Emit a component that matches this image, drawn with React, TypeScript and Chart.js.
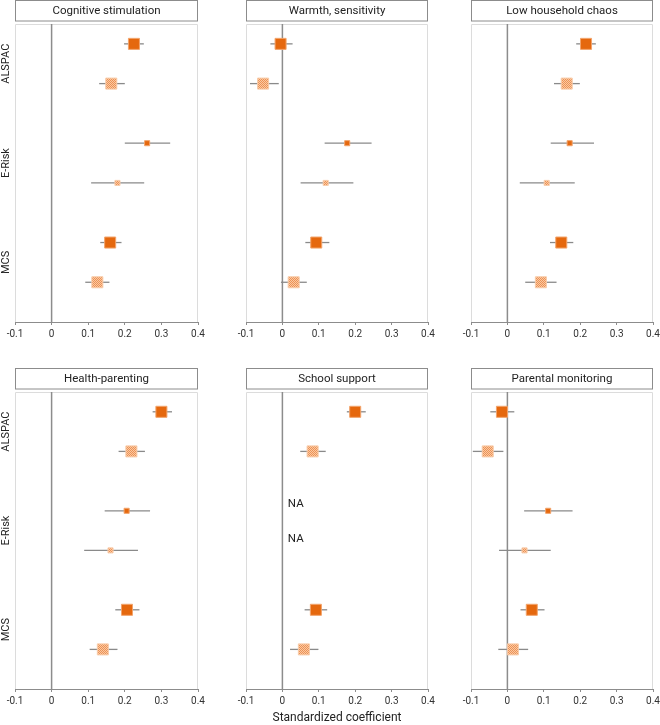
import React, { useEffect, useRef } from 'react';
import { Chart, registerables } from 'chart.js';

Chart.register(...registerables);

// ---------------- data ----------------
const panelTitles = [
  'Cognitive stimulation',
  'Warmth, sensitivity',
  'Low household chaos',
  'Health-parenting',
  'School support',
  'Parental monitoring',
];
const cohorts = ['ALSPAC', 'E-Risk', 'MCS'];
const xTickValues = [-0.1, 0, 0.1, 0.2, 0.3, 0.4];
const xAxisTitle = 'Standardized coefficient';
const naLabel = 'NA';

// solid markers (per panel, per cohort ALSPAC / E-Risk / MCS)
const solidEst = [
  [0.225, 0.261, 0.160],
  [-0.005, 0.178, 0.093],
  [0.216, 0.171, 0.148],
  [0.300, 0.205, 0.206],
  [0.200, null, 0.092],
  [-0.015, 0.112, 0.067],
];
const solidLo = [
  [0.198, 0.200, 0.133],
  [-0.033, 0.116, 0.063],
  [0.189, 0.119, 0.117],
  [0.276, 0.145, 0.174],
  [0.177, null, 0.061],
  [-0.047, 0.046, 0.036],
];
const solidHi = [
  [0.252, 0.324, 0.191],
  [0.028, 0.245, 0.129],
  [0.243, 0.238, 0.181],
  [0.329, 0.269, 0.240],
  [0.229, null, 0.123],
  [0.019, 0.179, 0.102],
];
// hatched markers
const hatchEst = [
  [0.163, 0.180, 0.125],
  [-0.053, 0.119, 0.031],
  [0.163, 0.108, 0.092],
  [0.218, 0.161, 0.140],
  [0.083, null, 0.059],
  [-0.054, 0.047, 0.015],
];
const hatchLo = [
  [0.130, 0.108, 0.092],
  [-0.089, 0.050, -0.004],
  [0.128, 0.034, 0.049],
  [0.183, 0.089, 0.104],
  [0.049, null, 0.021],
  [-0.095, -0.023, -0.025],
];
const hatchHi = [
  [0.200, 0.253, 0.158],
  [-0.010, 0.195, 0.067],
  [0.199, 0.185, 0.135],
  [0.255, 0.236, 0.180],
  [0.119, null, 0.099],
  [-0.011, 0.119, 0.057],
];

// ---------------- styling / layout ----------------
const FONT = 'Roboto, "Noto Sans", sans-serif';
const SOLID = '#E5680E';
const SOLID_EDGE = '#F2A46C';
const HATCH_EDGE = '#F8CCAA';
const BAR = '#8a8a8a';
const AXIS = '#8c8c8c';
const FRAME = '#dcdcdc';
const TEXT = '#222222';
const cohortRadius = [7.8, 3.6, 7.8];

const CANVAS_W = 220;
const canvasH = [360, 365];
const rowTop = [0, 360];
const rowPadTop = [24, 32];
const rowAxisH = [38, 36];
const colPadLeft = [15, 26, 31];
const colPadRight = [22, 12, 7];

function makePattern(): CanvasPattern | string {
  const c = document.createElement('canvas');
  c.width = 2;
  c.height = 2;
  const g = c.getContext('2d');
  if (!g) return '#F4AE7C';
  g.fillStyle = '#F9C9A4';
  g.fillRect(0, 0, 2, 2);
  g.fillStyle = '#EE9254';
  g.fillRect(0, 0, 1, 1);
  g.fillRect(1, 1, 1, 1);
  const pat = g.createPattern(c, 'repeat');
  return pat || '#F4AE7C';
}

function buildSeries(est: (number | null)[], lo: (number | null)[], hi: (number | null)[], offset: number) {
  const pts: { x: number; y: number }[] = [];
  const los: number[] = [];
  const his: number[] = [];
  const radii: number[] = [];
  const naRows: number[] = [];
  est.forEach((v, g) => {
    if (v == null) {
      naRows.push(5 * g + offset);
      return;
    }
    pts.push({ x: v, y: 5 * g + offset });
    los.push(lo[g] as number);
    his.push(hi[g] as number);
    radii.push(cohortRadius[g]);
  });
  return { pts, los, his, radii, naRows };
}

function makeConfig(p: number): any {
  const row = p < 3 ? 0 : 1;
  const col = p % 3;
  const solid = buildSeries(solidEst[p], solidLo[p], solidHi[p], 1);
  const hatch = buildSeries(hatchEst[p], hatchLo[p], hatchHi[p], 3);
  const pattern = makePattern();
  const showX = p === 4;

  const decor = {
    id: 'decor',
    beforeDatasetsDraw(chart: any) {
      const { ctx, chartArea: ca, scales } = chart;
      const x = scales.x;
      const y = scales.y;
      ctx.save();
      // light frame (left, top, right)
      ctx.strokeStyle = FRAME;
      ctx.lineWidth = 1;
      ctx.beginPath();
      ctx.moveTo(ca.left + 0.5, ca.bottom);
      ctx.lineTo(ca.left + 0.5, ca.top + 0.5);
      ctx.lineTo(ca.right - 0.5, ca.top + 0.5);
      ctx.lineTo(ca.right - 0.5, ca.bottom);
      ctx.stroke();
      // zero reference line
      const x0 = x.getPixelForValue(0);
      ctx.strokeStyle = AXIS;
      ctx.lineWidth = 1.5;
      ctx.beginPath();
      ctx.moveTo(x0, ca.top);
      ctx.lineTo(x0, ca.bottom);
      ctx.stroke();
      // error bars
      ctx.strokeStyle = BAR;
      ctx.lineWidth = 1.3;
      chart.data.datasets.forEach((ds: any) => {
        ds.data.forEach((pt: any, i: number) => {
          const py = y.getPixelForValue(pt.y);
          ctx.beginPath();
          ctx.moveTo(x.getPixelForValue(ds.ciLo[i]), py);
          ctx.lineTo(x.getPixelForValue(ds.ciHi[i]), py);
          ctx.stroke();
        });
      });
      ctx.restore();
    },
    afterDraw(chart: any) {
      const { ctx, chartArea: ca, scales } = chart;
      const x = scales.x;
      const y = scales.y;
      ctx.save();
      // title box
      const bTop = ca.top - 23.5;
      const bH = 20.5;
      ctx.fillStyle = '#ffffff';
      ctx.fillRect(ca.left + 0.5, bTop, ca.right - ca.left - 1, bH);
      ctx.strokeStyle = AXIS;
      ctx.lineWidth = 1;
      ctx.strokeRect(ca.left + 0.5, bTop, ca.right - ca.left - 1, bH);
      ctx.fillStyle = TEXT;
      ctx.font = `11.5px ${FONT}`;
      ctx.textAlign = 'center';
      ctx.textBaseline = 'middle';
      ctx.fillText(panelTitles[p], (ca.left + ca.right) / 2, bTop + bH / 2 + 0.5);
      // cohort labels (first column)
      if (col === 0) {
        ctx.font = `11px ${FONT}`;
        cohorts.forEach((c, g) => {
          ctx.save();
          ctx.translate(6, y.getPixelForValue(5 * g + 2));
          ctx.rotate(-Math.PI / 2);
          ctx.textAlign = 'center';
          ctx.textBaseline = 'middle';
          ctx.fillText(c, 0, 0);
          ctx.restore();
        });
      }
      // NA labels
      ctx.font = `11.5px ${FONT}`;
      ctx.textAlign = 'left';
      ctx.textBaseline = 'middle';
      solid.naRows.forEach((r) => {
        ctx.fillText(naLabel, x.getPixelForValue(0.015), y.getPixelForValue(r) - 6.5);
      });
      hatch.naRows.forEach((r) => {
        ctx.fillText(naLabel, x.getPixelForValue(0.015), y.getPixelForValue(r) - 11);
      });
      ctx.restore();
    },
  };

  return {
    type: 'scatter',
    data: {
      datasets: [
        {
          data: hatch.pts,
          ciLo: hatch.los,
          ciHi: hatch.his,
          pointStyle: 'rect',
          pointRadius: hatch.radii,
          backgroundColor: pattern,
          borderColor: HATCH_EDGE,
          borderWidth: 1,
        },
        {
          data: solid.pts,
          ciLo: solid.los,
          ciHi: solid.his,
          pointStyle: 'rect',
          pointRadius: solid.radii,
          backgroundColor: SOLID,
          borderColor: SOLID_EDGE,
          borderWidth: 1,
        },
      ],
    },
    options: {
      animation: false,
      responsive: false,
      devicePixelRatio: 1,
      events: [],
      layout: {
        autoPadding: false,
        padding: { left: colPadLeft[col], right: colPadRight[col], top: rowPadTop[row], bottom: 0 },
      },
      plugins: { legend: { display: false }, tooltip: { enabled: false }, title: { display: false } },
      scales: {
        x: {
          type: 'linear',
          min: -0.1,
          max: 0.4,
          afterBuildTicks: (s: any) => {
            s.ticks = xTickValues.map((v) => ({ value: v }));
          },
          afterFit: (s: any) => {
            s.height = rowAxisH[row];
            s.paddingLeft = 0;
            s.paddingRight = 0;
          },
          grid: {
            display: true,
            drawOnChartArea: false,
            drawTicks: true,
            tickLength: 3,
            tickColor: AXIS,
            tickWidth: 1,
            color: AXIS,
          },
          border: { display: true, color: AXIS, width: 1 },
          ticks: {
            padding: 3,
            color: '#333333',
            font: { family: FONT, size: 10 },
            maxRotation: 0,
            minRotation: 0,
            callback: (v: number) => String(Number(Number(v).toFixed(1))),
          },
          title: {
            display: showX,
            text: xAxisTitle,
            color: TEXT,
            font: { family: FONT, size: 12 },
            padding: { top: 0, bottom: 0 },
          },
        },
        y: {
          type: 'linear',
          min: 0,
          max: 15,
          reverse: true,
          display: false,
        },
      },
    },
    plugins: [decor],
  };
}

function Panel({ p }: { p: number }) {
  const ref = useRef<HTMLCanvasElement | null>(null);
  const row = p < 3 ? 0 : 1;
  const col = p % 3;
  useEffect(() => {
    if (!ref.current) return;
    const chart = new Chart(ref.current, makeConfig(p));
    return () => chart.destroy();
  }, [p]);
  return (
    <canvas
      ref={ref}
      width={CANVAS_W}
      height={canvasH[row]}
      style={{
        position: 'absolute',
        left: col * CANVAS_W,
        top: rowTop[row],
        width: CANVAS_W,
        height: canvasH[row],
      }}
    />
  );
}

export default function App() {
  return (
    <div
      style={{
        position: 'absolute',
        left: 0,
        top: 0,
        width: 660,
        height: 725,
        overflow: 'hidden',
        background: '#ffffff',
      }}
    >
      {panelTitles.map((_, p) => (
        <Panel key={p} p={p} />
      ))}
    </div>
  );
}
